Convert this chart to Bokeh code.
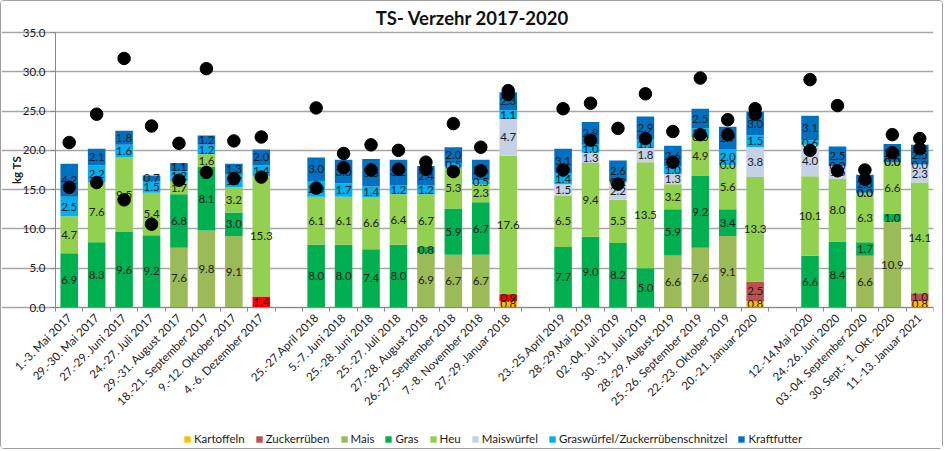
import numpy as np
from bokeh.plotting import figure
from bokeh.models import (ColumnDataSource, FixedTicker, NumeralTickFormatter, Legend,
                          LegendItem, Range1d, Label)
from bokeh.core.properties import value
from bokeh.embed import file_html
from bokeh.resources import INLINE

# ---------------- data ----------------
categories = [
    "1.-3. Mai 2017", "29.-30. Mai 2017", "27.-29. Juni 2017", "24.-27. Juli 2017",
    "29.-31. August 2017", "18.-21. September 2017", "9.-12. Oktober 2017", "4.-6. Dezember 2017",
    "",
    "25.-27.April 2018", "5.-7. Juni 2018", "25.-28. Juni 2018", "25.-27. Juli 2018",
    "27.-28. August 2018", "26.-27. September 2018", "7.-8. November 2018", "27.-29. Januar 2018",
    "",
    "23.-25.April 2019", "28.-29.Mai 2019", "02.-04. Juli 2019", "30. -31. Juli 2019",
    "28.-29. August 2019", "25.-26. September 2019", "22.-23. Oktober 2019", "20.-21. Januar 2020",
    "",
    "12.-14.Mai 2020", "24.-26. Juni 2020", "03.-04. September 2020", "30. Sept.- 1. Okt. 2020",
    "11.-13. Januar 2021",
]

N = None
kartoffeln   = [N, N, N, N, N, N, N, N,   N,  N, N, N, N, N, N, N, 0.8,  N,  N, N, N, N, N, N, N, 0.8,  N,  N, N, N, N, 0.8]
zuckerrueben = [N, N, N, N, N, N, N, 1.4, N,  N, N, N, N, N, N, N, 0.9,  N,  N, N, N, N, N, N, N, 2.5,  N,  N, N, N, N, 1.0]
mais         = [N, N, N, N, 7.6, 9.8, 9.1, N, N,  N, N, N, N, 6.9, 6.7, 6.7, N,  N,  N, N, N, N, 6.6, 7.6, 9.1, N,  N,  N, N, 6.6, 10.9, N]
gras         = [6.9, 8.3, 9.6, 9.2, 6.8, 8.1, 3.0, N, N,  8.0, 8.0, 7.4, 8.0, 0.8, 5.9, 6.7, N,  N,
                7.7, 9.0, 8.2, 5.0, 5.9, 9.2, 3.4, N,  N,  6.6, 8.4, 1.7, 1.0, N]
heu          = [4.7, 7.6, 9.5, 5.4, 1.7, 1.6, 3.2, 15.3, N,  6.1, 6.1, 6.6, 6.4, 6.7, 5.3, 2.3, 17.6, N,
                6.5, 9.4, 5.5, 13.5, 3.2, 4.9, 5.6, 13.3, N,  10.1, 8.0, 6.3, 6.6, 14.1]
maiswuerfel  = [N, N, N, N, N, N, N, N, N,  N, N, N, N, N, N, N, 4.7, N,
                1.5, 1.3, 2.2, 1.8, 1.3, 0.0, 0.0, 3.8, N,  4.0, 1.6, 0.0, 0.0, 2.3]
graswuerfel  = [2.5, 2.2, 1.6, 1.5, 1.2, 1.2, 1.7, 1.4, N,  2.0, 1.7, 1.4, 1.2, 1.2, 0.5, 0.5, 1.1, N,
                1.4, 1.0, 0.2, 1.1, 1.0, 1.1, 2.0, 1.5, N,  0.6, 0.0, 0.0, 0.0, 0.0]
kraftfutter  = [4.2, 2.1, 1.8, 0.7, 1.1, 1.2, 1.3, 2.0, N,  3.0, 3.0, 3.5, 3.2, 2.4, 2.0, 2.6, 2.3, N,
                3.1, 2.9, 2.6, 2.9, 2.6, 2.5, 2.9, 3.0, N,  3.1, 2.5, 2.3, 2.3, 2.5]

punkte_oben  = [21.0, 24.6, 31.7, 23.1, 20.9, 30.4, 21.2, 21.7, N,  25.4, 19.6, 20.7, 20.0, 18.5, 23.4, 20.4, 27.6, N,
                25.3, 26.0, 22.8, 27.2, 22.4, 29.2, 23.9, 25.3, N,  29.0, 25.7, 17.5, 22.0, 21.5]
punkte_unten = [15.3, 15.9, 13.7, 10.6, 16.2, 17.2, 16.4, 16.6, N,  15.2, 17.8, 17.5, 17.6, 17.6, 17.3, 17.4, 27.1, N,
                17.5, 21.3, 15.7, 21.5, 18.5, 22.0, 22.0, 24.6, N,  20.0, 17.4, 16.3, 19.7, 20.2]

y_label = "kg TS"
title = "TS- Verzehr 2017-2020"
series_names = ["Kartoffeln", "Zuckerrüben", "Mais", "Gras", "Heu", "Maiswürfel",
                "Graswürfel/Zuckerrübenschnitzel", "Kraftfutter"]
series_values = [kartoffeln, zuckerrueben, mais, gras, heu, maiswuerfel, graswuerfel, kraftfutter]
series_colors = ["#FFC000", "#C0504D", "#9BBB59", "#00B050", "#92D050", "#C5D2E6", "#00B0F0", "#0070C0"]
# individual bar colour exceptions (Zuckerrüben drawn in bright red in two bars)
color_exceptions = {("Zuckerrüben", "4.-6. Dezember 2017"): "#FF0000",
                    ("Zuckerrüben", "27.-29. Januar 2018"): "#FF0000"}

# ---------------- layout constants (pixels inside the canvas) ----------------
FONT = "Lato"
W, H = 943, 449
RIGHT = 11
AX_LEFT = 54        # x pixel of the value axis
AX_TOP = 31         # y pixel of the 35.0 line
AX_BOTTOM = 306     # y pixel of the 0.0 line
Y_TOP = 35.0
n = len(categories)
frame_w = W - RIGHT
ux = n / (frame_w - AX_LEFT)                 # data units per pixel (x)
uy = Y_TOP / (AX_BOTTOM - AX_TOP)            # data units per pixel (y)
x_start = -0.5 - AX_LEFT * ux
y_start = -(H - AX_BOTTOM) * uy
y_end = Y_TOP + AX_TOP * uy


def px_x(px):
    return x_start + px * ux


def px_y(py):
    return y_end - py * uy


p = figure(width=W, height=H, output_backend="svg", toolbar_location=None,
           x_range=Range1d(x_start, n - 0.5), y_range=Range1d(y_start, y_end),
           min_border_left=0, min_border_right=RIGHT, min_border_top=0, min_border_bottom=0,
           background_fill_color="white", border_fill_color="white")
p.styles = {"border": "1px solid #a0a0a0", "border-radius": "4px"}
p.outline_line_color = None

p.add_layout(Label(x=px_x(471), y=px_y(16), text=title, text_align="center",
                   text_baseline="middle", text_font=FONT, text_font_size="18.5px",
                   text_font_style="bold", text_color="#111111"))

# stacked bars
bottoms = [0.0] * n
legend_items = []
lab_x, lab_y, lab_t = [], [], []
for name, vals, col in zip(series_names, series_values, series_colors):
    xs, bs, ts, cs = [], [], [], []
    for i, v in enumerate(vals):
        if v is None:
            continue
        xs.append(i)
        bs.append(bottoms[i])
        ts.append(bottoms[i] + v)
        cs.append(color_exceptions.get((name, categories[i]), col))
        lab_x.append(i)
        lab_y.append(bottoms[i] + v / 2)
        lab_t.append(f"{v:.1f}")
        bottoms[i] += v
    src = ColumnDataSource(dict(x=xs, bottom=bs, top=ts, color=cs))
    r = p.vbar(x="x", bottom="bottom", top="top", width=0.64, fill_color="color",
               line_color=None, source=src)
    idx = cs.index(col) if col in cs else 0
    legend_items.append(LegendItem(label=name, renderers=[r], index=idx))

p.text(x=lab_x, y=lab_y, text=lab_t, text_align="center", text_baseline="middle",
       text_font=value(FONT), text_font_size="11.5px", text_color="#1b1b1b")

# dots
for pts in (punkte_oben, punkte_unten):
    xs = [i for i, v in enumerate(pts) if v is not None]
    ys = [v for v in pts if v is not None]
    p.scatter(xs, ys, size=12.5, fill_color="black", line_color="black")

# x axis (drawn inside the frame at y = 0)
tick_pos = [i for i, c in enumerate(categories) if c]
p.xaxis.fixed_location = 0
p.xaxis.ticker = FixedTicker(ticks=tick_pos, minor_ticks=[i - 0.5 for i in range(n + 1)])
p.xaxis.bounds = (-0.5, n - 0.5)
p.xaxis.major_label_overrides = {i: c for i, c in enumerate(categories) if c}
p.xaxis.major_label_orientation = np.pi / 4
p.xaxis.major_tick_out = 0
p.xaxis.major_tick_in = 0
p.xaxis.minor_tick_out = 4
p.xaxis.minor_tick_in = 0
p.xaxis.minor_tick_line_color = "#888888"
p.xaxis.axis_line_color = "#888888"
p.xaxis.major_label_text_font = FONT
p.xaxis.major_label_text_font_size = "11.5px"
p.xaxis.major_label_text_color = "#1b1b1b"
p.xaxis.major_label_standoff = 4

# y axis (drawn inside the frame at x = -0.5)
p.yaxis.fixed_location = -0.5
p.yaxis.ticker = FixedTicker(ticks=list(range(0, 36, 5)))
p.yaxis.bounds = (0, Y_TOP)
p.yaxis.formatter = NumeralTickFormatter(format="0.0")
p.yaxis.axis_line_color = "#888888"
p.yaxis.major_tick_line_color = "#888888"
p.yaxis.major_tick_out = 5
p.yaxis.major_tick_in = 0
p.yaxis.minor_tick_line_color = None
p.yaxis.major_label_text_font = FONT
p.yaxis.major_label_text_font_size = "11.5px"
p.yaxis.major_label_text_color = "#1b1b1b"

p.add_layout(Label(x=px_x(15), y=Y_TOP / 2, text=y_label, angle=np.pi / 2,
                   text_align="center", text_baseline="middle", text_font=FONT,
                   text_font_size="11.5px", text_font_style="bold", text_color="#1b1b1b"))

p.xgrid.grid_line_color = None
p.ygrid.grid_line_color = "#a6a6a6"
p.ygrid.grid_line_width = 1.5
p.ygrid.bounds = (-0.5, n - 0.5)

legend = Legend(items=legend_items, orientation="horizontal", glyph_width=8, glyph_height=8,
                label_text_font=FONT, label_text_font_size="11.5px", label_text_color="#1b1b1b",
                label_standoff=3, spacing=10, padding=0, margin=0, border_line_color=None,
                background_fill_alpha=0, label_height=12,
                location=(182, 5))
p.add_layout(legend, "center")

open("out.html", "w").write(file_html(p, INLINE))
